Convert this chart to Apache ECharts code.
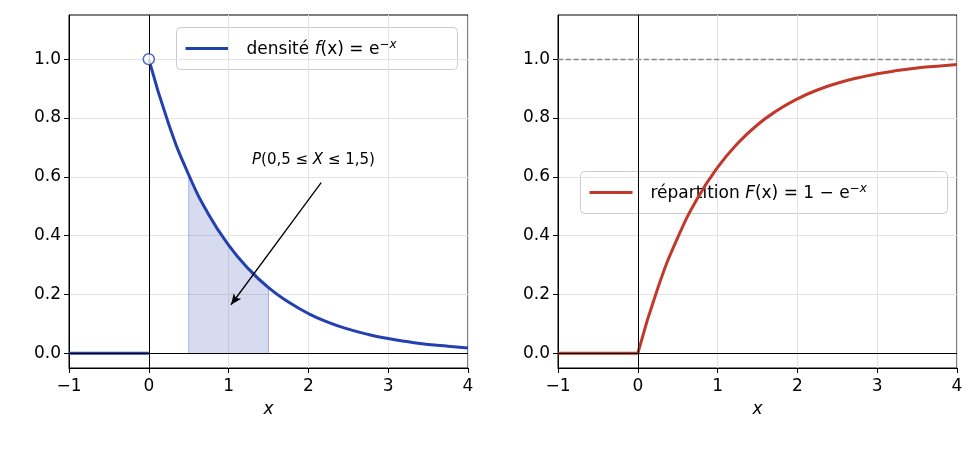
<!DOCTYPE html><html><head><meta charset="utf-8"><script src="https://cdn.jsdelivr.net/npm/echarts@6/dist/echarts.min.js"></script></head><body style="margin:0"><div id="c" style="width:980px;height:456px"></div><script>
const xs=[0,0.25,0.5,0.75,1,1.25,1.5,1.75,2,2.25,2.5,2.75,3,3.25,3.5,3.75,4];
const dens=[1,0.779,0.607,0.472,0.368,0.287,0.223,0.174,0.135,0.105,0.082,0.064,0.050,0.039,0.030,0.024,0.018];
const cdf=[0,0.221,0.393,0.528,0.632,0.713,0.777,0.826,0.865,0.895,0.918,0.936,0.950,0.961,0.970,0.976,0.982];
const yTicks=[0,0.2,0.4,0.6,0.8,1.0];
const F='DejaVu Sans';
const blue='#2340b0', red='#c0392b';
function xa(i){return {type:'value',gridIndex:i,min:-1,max:4,interval:1,name:'x',nameLocation:'middle',nameGap:33,nameTextStyle:{fontFamily:F,fontSize:17,fontStyle:'italic',color:'#000'},axisLine:{onZero:false,lineStyle:{color:'#000'}},axisTick:{lineStyle:{color:'#000'},length:5},axisLabel:{fontFamily:F,fontSize:17,color:'#000',margin:10,formatter:v=>String(v).replace('-','−')},splitLine:{lineStyle:{color:'#e4e4e4'}}};}
function ya(i){return {type:'value',gridIndex:i,min:-0.05,max:1.15,interval:0.2,axisLine:{show:true,onZero:false,lineStyle:{color:'#000'}},axisTick:{show:true,lineStyle:{color:'#000'},length:5,customValues:yTicks},axisLabel:{fontFamily:F,fontSize:17,color:'#000',customValues:yTicks,formatter:v=>v.toFixed(1)},splitLine:{show:true,lineStyle:{color:'#e4e4e4'},customValues:yTicks}};}
const axLines=(i)=>({type:'line',xAxisIndex:i,yAxisIndex:i,data:[],markLine:{silent:true,symbol:'none',label:{show:false},lineStyle:{color:'#000',width:1,type:'solid'},data:[{xAxis:0},{yAxis:0}]}});
const shade=[[0.5,0]].concat(xs.map((x,i)=>[x,dens[i]]).filter(p=>p[0]>=0.5&&p[0]<=1.5)).concat([[1.5,0]]);
const box=(x,y,w,col,rich,txt)=>({type:'group',left:x,top:y,children:[{type:'rect',shape:{x:0,y:0,width:w,height:42,r:4},style:{fill:'#fff',stroke:'#ccc',lineWidth:1}},{type:'line',shape:{x1:9,y1:21,x2:52,y2:21},style:{stroke:col,lineWidth:3}},{type:'text',x:70,y:11,style:{text:txt,rich:rich,font:'17px DejaVu Sans',fill:'#000'}}]});
const rich={i:{fontStyle:'italic',fontFamily:F,fontSize:17},s:{fontStyle:'italic',fontFamily:F,fontSize:12,padding:[0,0,10,0]}};
const opt={animation:false,
grid:[{left:69,top:15,width:399,height:353,show:true,borderColor:'#000',borderWidth:1},{left:558,top:15,width:399,height:353,show:true,borderColor:'#000',borderWidth:1}],
xAxis:[xa(0),xa(1)],yAxis:[ya(0),ya(1)],
series:[axLines(0),axLines(1),
{type:'line',xAxisIndex:0,yAxisIndex:0,data:shade,symbol:'none',lineStyle:{color:'rgba(60,90,220,0.4)',width:1},areaStyle:{color:'rgba(35,64,176,0.27)'}},
{type:'line',xAxisIndex:0,yAxisIndex:0,data:[[-1,0],[0,0]],symbol:'none',lineStyle:{color:blue,width:3}},
{type:'line',xAxisIndex:0,yAxisIndex:0,smooth:true,data:xs.map((x,i)=>[x,dens[i]]),symbol:'none',lineStyle:{color:blue,width:3},
 markLine:{silent:true,symbol:['none','arrow'],symbolSize:[7,11],lineStyle:{color:'#000',width:1.3,type:'solid'},label:{show:false},data:[[{coord:[2.16,0.58]},{coord:[1.03,0.165]}]]}},
{type:'scatter',xAxisIndex:0,yAxisIndex:0,data:[[0,1]],symbolSize:11,itemStyle:{color:'#fff',borderColor:blue,borderWidth:1.5},z:5},
{type:'line',xAxisIndex:1,yAxisIndex:1,data:[],markLine:{silent:true,symbol:'none',label:{show:false},lineStyle:{color:'#888',width:1.3,type:'dashed'},data:[{yAxis:1}]}},
{type:'line',xAxisIndex:1,yAxisIndex:1,data:[[-1,0],[0,0]],symbol:'none',lineStyle:{color:red,width:3}},
{type:'line',xAxisIndex:1,yAxisIndex:1,smooth:true,data:xs.map((x,i)=>[x,cdf[i]]),symbol:'none',lineStyle:{color:red,width:3}}],
graphic:[box(176,27,281,blue,rich,'densité {i|f}(x) = e{s|−x}'),box(580,171,367,red,rich,'répartition {i|F}(x) = 1 − e{s|−x}'),
{type:'text',left:252,top:153,style:{text:'{i|P}(0,5 ≤ {i|X} ≤ 1,5)',rich:{i:{fontStyle:'italic',fontFamily:F,fontSize:15}},font:'15px DejaVu Sans',fill:'#000'}}]};
echarts.init(document.getElementById('c')).setOption(opt);
</script></body></html>
